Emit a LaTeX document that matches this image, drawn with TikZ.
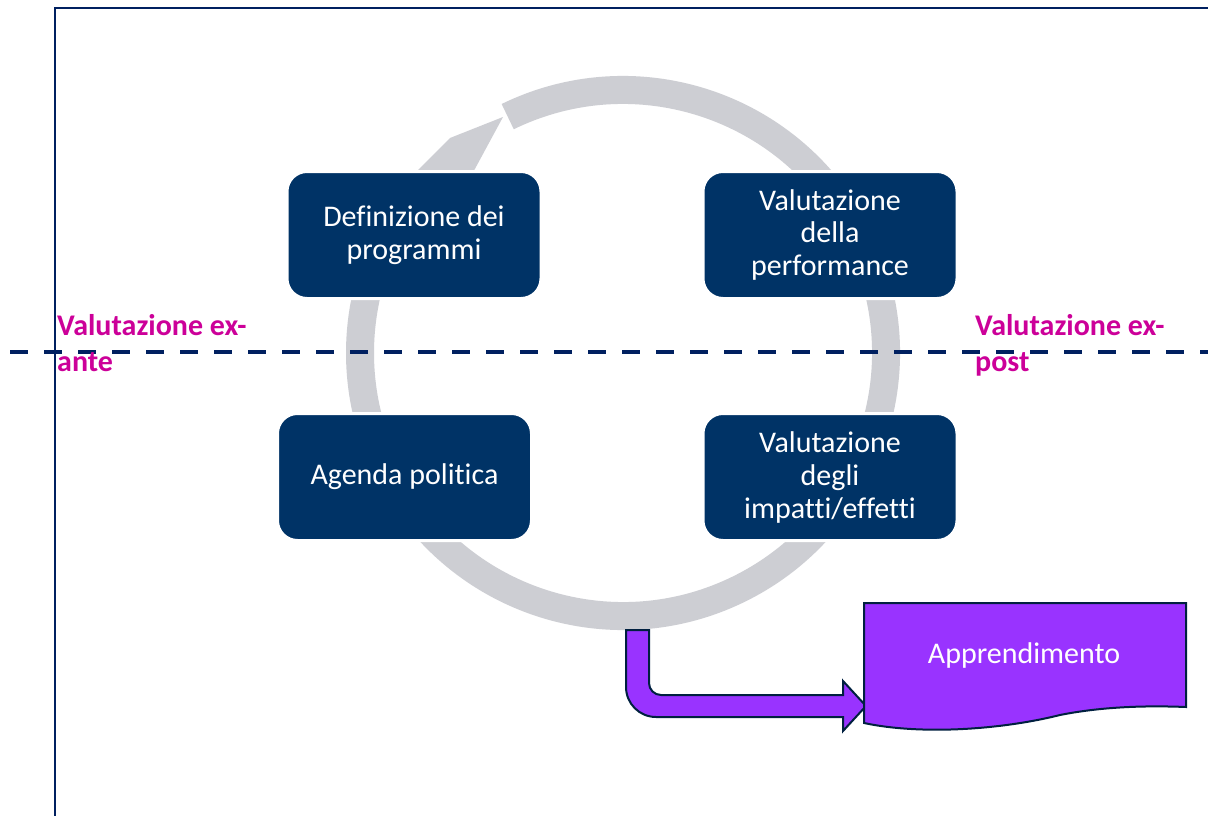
\documentclass[tikz,border=0pt]{standalone}
\usepackage{fontspec}
\setmainfont{Carlito}[Ligatures={NoCommon}]
\definecolor{navy}{RGB}{0,32,96}
\definecolor{boxblue}{RGB}{0,51,102}
\definecolor{ringgray}{RGB}{205,206,211}
\definecolor{labmag}{RGB}{204,0,153}
\definecolor{purp}{RGB}{153,51,255}
\definecolor{outl}{RGB}{0,32,64}
\begin{document}
\begin{tikzpicture}[x=1pt,y=-1pt,
  box/.style={draw=white, line width=3pt, fill=boxblue, rounded corners=20pt, text=white, align=center,
    font=\fontsize{30}{33}\selectfont, minimum width=254pt, minimum height=127pt, inner sep=0pt},
  lab/.style={text=labmag, font=\bfseries\fontsize{30}{33}\selectfont, anchor=base west, inner sep=0pt},
  blockarrow/.style={draw=outl, line width=2pt, fill=purp, line join=miter},
]
\useasboundingbox (0,0) rectangle (1208,816);
\fill[white] (0,0) rectangle (1208,816);
% frame
\draw[navy, line width=2.5pt] (55,816) -- (55,8) -- (1208,8);
% cycle ring
\coordinate (c) at (623,353);
\draw[ringgray, line width=28pt] (c) ++(-116:263) arc[start angle=-116, end angle=215, radius=263];
\fill[ringgray] (410,178) -- (450,138) -- (503,117) -- (470,178) -- cycle;
% boxes
\node[box] (def) at (414,235) {Definizione dei\\programmi};
\node[box] (perf) at (830,235) {Valutazione\\della\\performance};
\node[box] (agenda) at (404.5,477) {Agenda politica};
\node[box] (imp) at (830,477) {Valutazione\\degli\\impatti/effetti};
% dashed separator
\coordinate (dl) at (10,352);
\coordinate (dr) at (1208,352);
\draw[navy, line width=4.5pt, dash pattern=on 18pt off 16pt] (dl) -- (dr);
% labels
\node[lab] (exa1) at (57,335) {Valutazione ex-};
\node[lab] (exa2) at (57,371) {ante};
\node[lab] (exp1) at (975,335) {Valutazione ex-};
\node[lab] (exp2) at (975,371) {post};
% learning arrow
\draw[blockarrow] (626,630) -- (649,630) -- (649,683)
  arc[start angle=180, end angle=90, radius=12]
  -- (843,695) -- (843,681) -- (866,706) -- (843,731) -- (843,717) -- (656,717)
  arc[start angle=90, end angle=180, radius=30] -- cycle;
% document shape
\draw[blockarrow, line width=2pt] (864,603) -- (1186,603) -- (1186,707)
  .. controls (1160,706) and (1110,705) .. (1060,715)
  .. controls (1000,730) and (920,735) .. (864,723) -- cycle;
\node[text=white, font=\fontsize{30}{33}\selectfont, inner sep=0pt] (app) at (1024,655) {Apprendimento};
\end{tikzpicture}
\end{document}
